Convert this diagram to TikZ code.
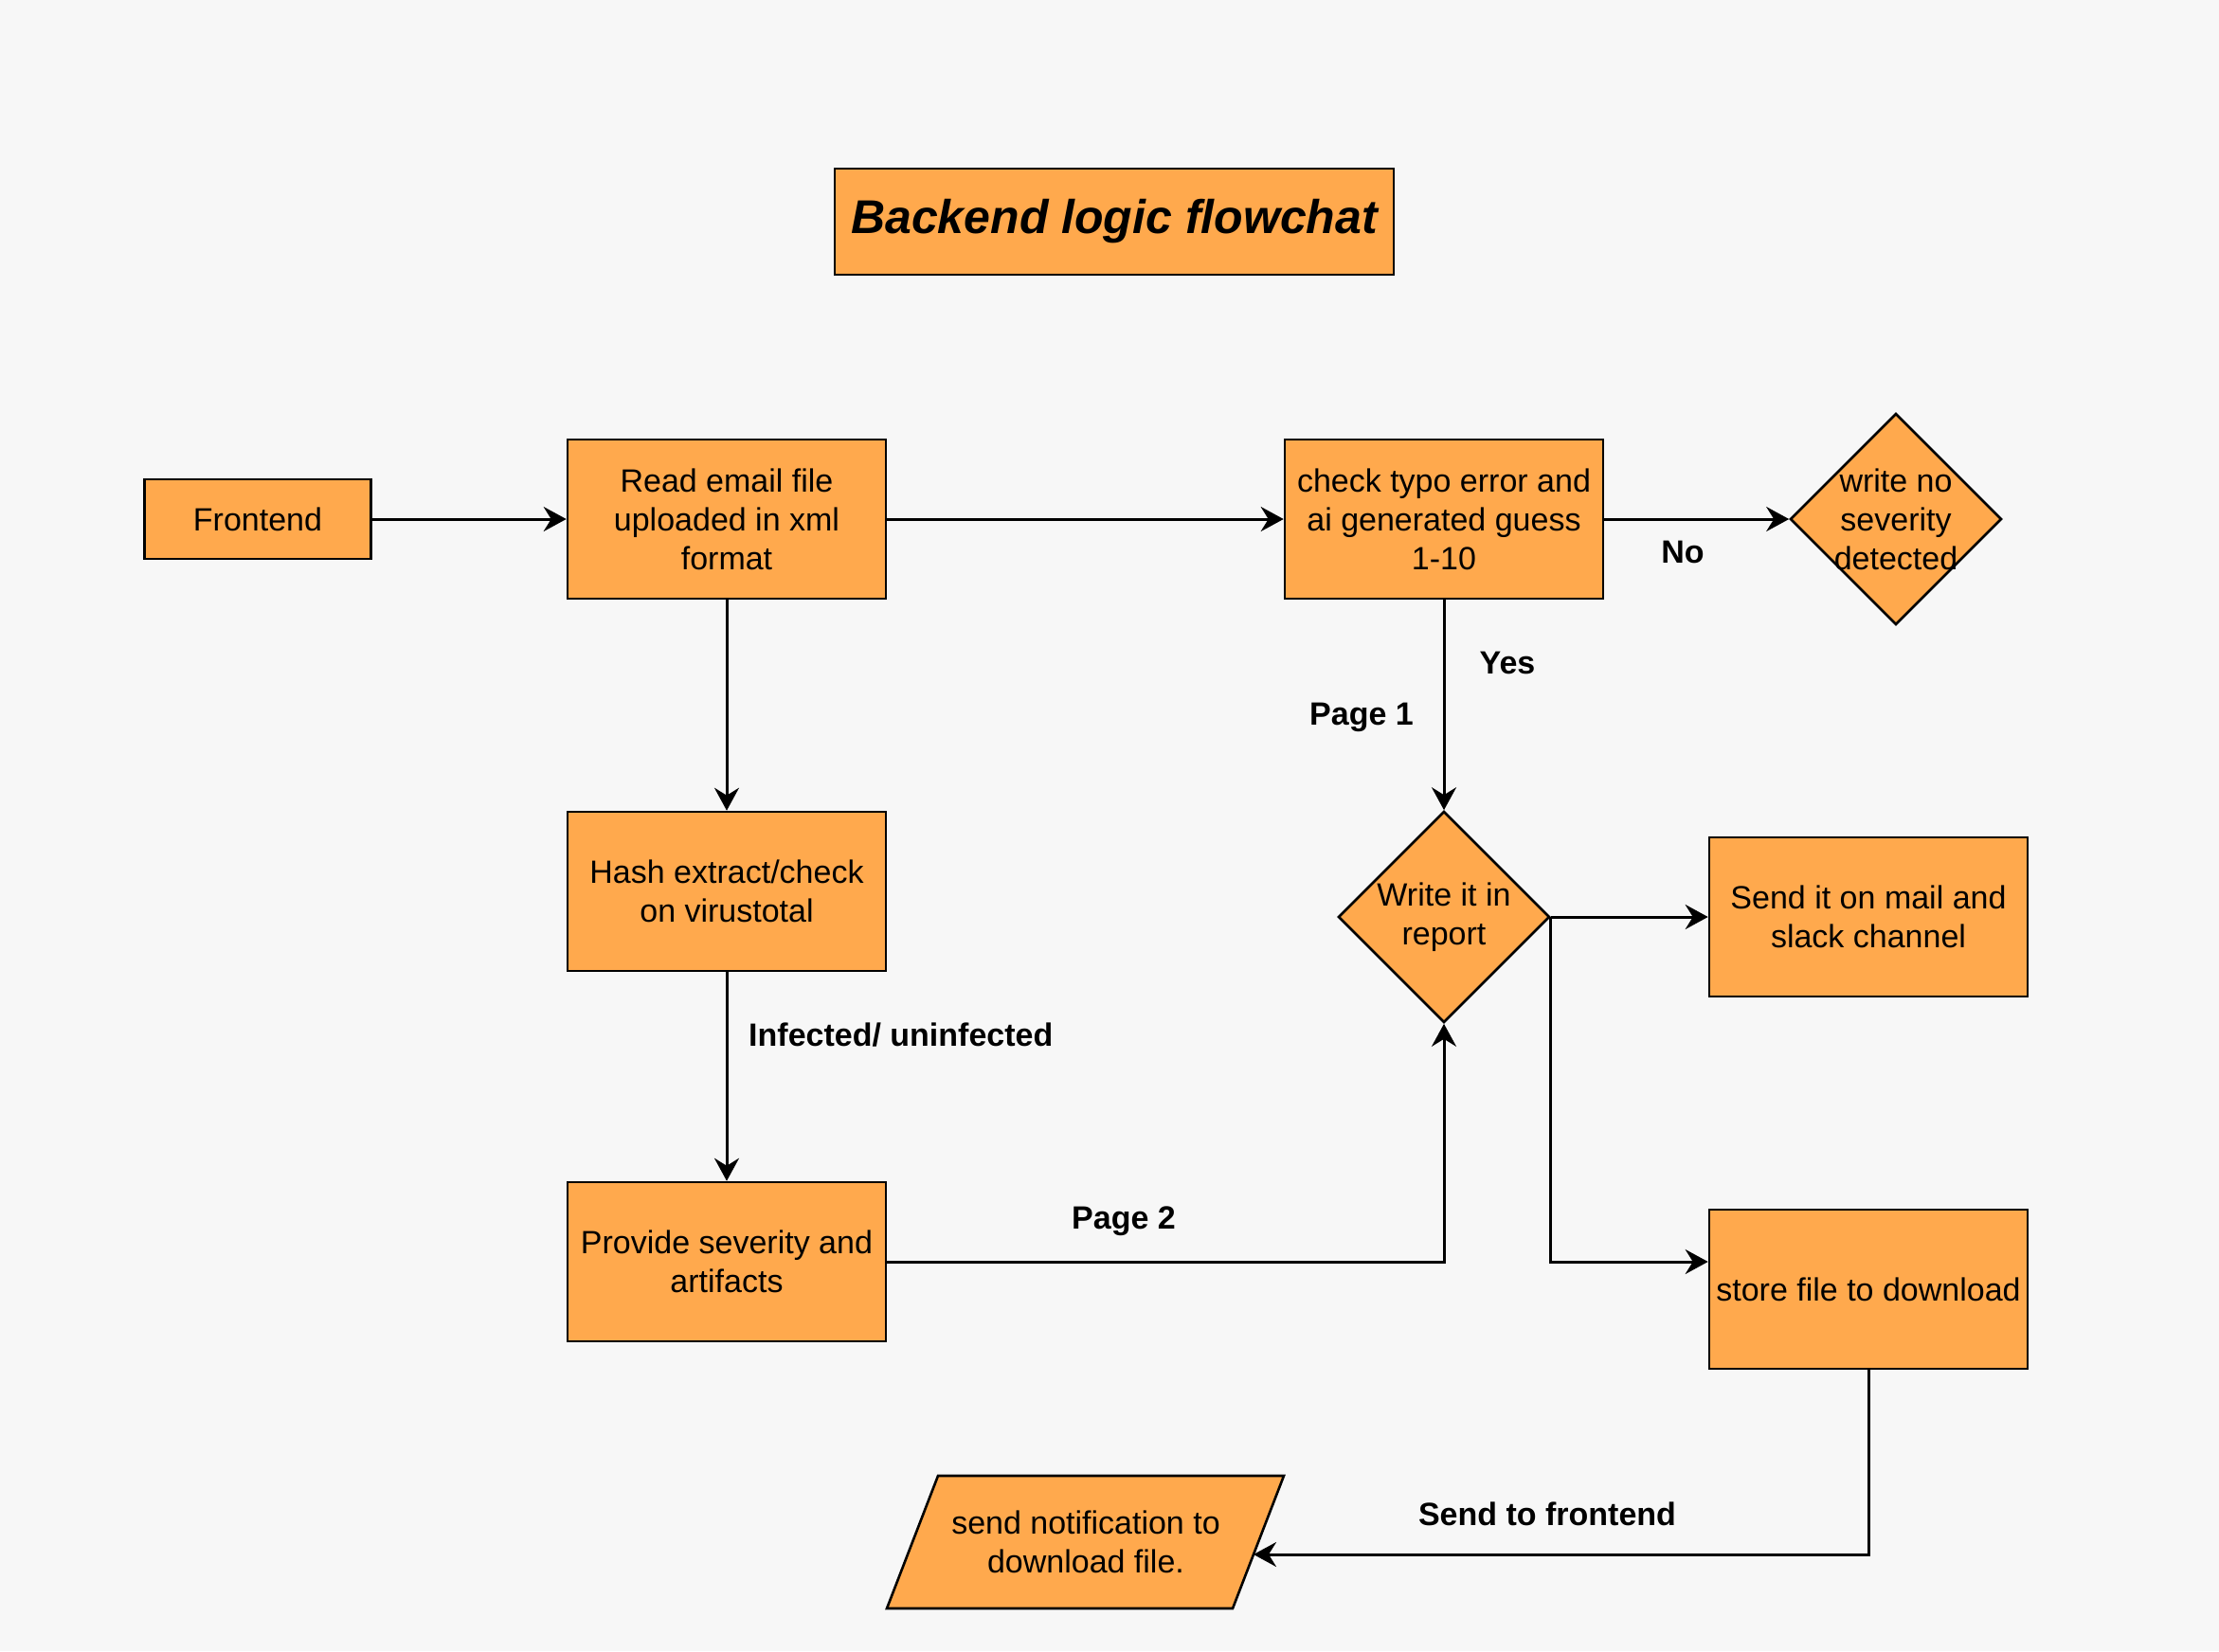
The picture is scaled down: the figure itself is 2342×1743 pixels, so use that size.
\documentclass[tikz,border=0pt]{standalone}
\usepackage{fontspec}
\setmainfont{Liberation Sans}
\usetikzlibrary{arrows.meta,shapes.geometric}
\definecolor{bgc}{RGB}{247,247,247}
\definecolor{org}{RGB}{255,169,77}
\begin{document}
\begin{tikzpicture}[x=1pt,y=-1pt,
  box/.style={draw=black,fill=org,line width=2.6pt,minimum width=336pt,minimum height=168pt,inner sep=0pt,align=center,font=\fontsize{34}{41}\selectfont},
  diam/.style={draw=black,fill=org,line width=2.6pt,diamond,aspect=1,minimum width=223pt,minimum height=223pt,inner sep=0pt},
  txt/.style={align=center,inner sep=0pt,font=\fontsize{34}{41}\selectfont},
  lbl/.style={inner sep=0pt,font=\fontsize{34}{41}\selectfont\bfseries},
  arr/.style={-{Stealth[length=24pt,width=26pt,inset=8pt]},line width=3pt}
]
\fill[bgc] (0,0) rectangle (2342,1743);
\useasboundingbox (0,0) rectangle (2342,1743);

\node[box,minimum width=590pt,minimum height=112pt,font=\fontsize{50}{60}\selectfont\bfseries\itshape] (title) at (1176,234) {Backend logic flowchat};

\node[box,minimum width=239pt,minimum height=84pt] (fe) at (272,548) {Frontend};
\node[box] (re) at (767,548) {Read email file\\uploaded in xml\\format};
\node[box] (ct) at (1524,548) {check typo error and\\ai generated guess\\1-10};
\node[diam] (wn) at (2001,548) {};
\node[txt] (wnt) at (wn) {write no\\severity\\detected};
\node[box] (hx) at (767,941) {Hash extract/check\\on virustotal};
\node[diam] (rep) at (1524,968) {};
\node[txt] (rept) at (rep) {Write it in\\report};
\node[box] (sm) at (1972,968) {Send it on mail and\\slack channel};
\node[box] (ps) at (767,1332) {Provide severity and\\artifacts};
\node[box] (sf) at (1972,1361) {store file to download};

\filldraw[fill=org,draw=black,line width=2.6pt,line join=miter] (990,1558) -- (1355,1558) -- (1301,1698) -- (936,1698) -- cycle;
\node[txt] (nt) at (1146,1628) {send notification to\\download file.};
\coordinate (ntr) at (1323,1641);

\draw[arr] (fe) -- (re);
\draw[arr] (re) -- (ct);
\draw[arr] (ct) -- (wn);
\draw[arr] (ct) -- (rep);
\draw[arr] (re) -- (hx);
\draw[arr] (hx) -- (ps);
\draw[arr] (ps.east) -| (rep.south);
\draw[arr] (rep.east) -- (sm.west);
\draw[arr] (rep.east) |- ([yshift=29pt]sf.west);
\draw[arr] (sf.south) |- (ntr);

\node[lbl] (lno) at (1776,583) {No};
\node[lbl] (lyes) at (1591,700) {Yes};
\node[lbl] (lp1) at (1437,757) {Page 1};
\node[lbl,anchor=west] (linf) at (790,1093) {Infected/ uninfected};
\node[lbl] (lp2) at (1186,1289) {Page 2};
\node[lbl] (lsf) at (1633,1598) {Send to frontend};
\end{tikzpicture}
\end{document}
